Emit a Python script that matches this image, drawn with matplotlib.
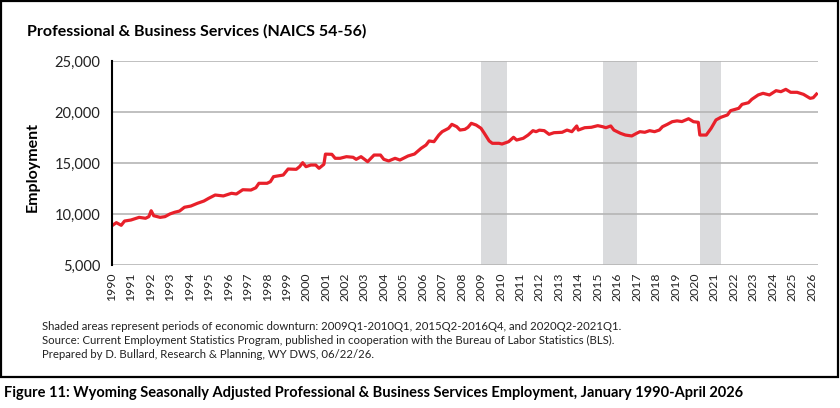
import matplotlib
matplotlib.use("Agg")
import matplotlib.pyplot as plt
from matplotlib.patches import Rectangle
from matplotlib.ticker import FuncFormatter

plt.rcParams['font.family'] = ['Lato', 'DejaVu Sans']

# decimal year (monthly) and employment
year = [
    1990.00, 1990.25, 1990.50, 1990.67, 1991.00, 1991.42, 1991.75, 1991.92,
    1992.04, 1992.17, 1992.50, 1992.75, 1993.00, 1993.25, 1993.50, 1993.75,
    1994.08, 1994.42, 1994.75, 1995.00, 1995.33, 1995.75, 1996.17, 1996.42,
    1996.75, 1997.17, 1997.42, 1997.58, 1998.00, 1998.17, 1998.33, 1998.83,
    1999.08, 1999.50, 1999.67, 1999.83, 2000.00, 2000.25, 2000.50, 2000.67,
    2000.92, 2001.00, 2001.33, 2001.50, 2001.75, 2002.08, 2002.42, 2002.58,
    2002.83, 2003.17, 2003.50, 2003.83, 2004.00, 2004.25, 2004.58, 2004.83,
    2005.25, 2005.58, 2005.92, 2006.17, 2006.33, 2006.58, 2006.83, 2007.00,
    2007.33, 2007.50, 2007.75, 2007.92, 2008.17, 2008.33, 2008.50, 2008.75,
    2009.00, 2009.17, 2009.42, 2009.58, 2009.92, 2010.08, 2010.42, 2010.67,
    2010.83, 2011.17, 2011.42, 2011.67, 2011.83, 2012.00, 2012.25, 2012.50,
    2012.75, 2013.17, 2013.42, 2013.67, 2013.92, 2014.00, 2014.33, 2014.67,
    2015.00, 2015.25, 2015.42, 2015.67, 2015.83, 2016.17, 2016.42, 2016.75,
    2017.00, 2017.17, 2017.42, 2017.67, 2017.92, 2018.17, 2018.33, 2018.58,
    2018.83, 2019.08, 2019.33, 2019.67, 2019.92, 2020.17, 2020.25, 2020.58,
    2020.83, 2021.08, 2021.33, 2021.67, 2021.83, 2022.25, 2022.42, 2022.75,
    2022.92, 2023.25, 2023.50, 2023.83, 2024.17, 2024.42, 2024.67, 2024.92,
    2025.25, 2025.58, 2025.92, 2026.08, 2026.25,
]
employment = [
    8850, 9180, 8920, 9340, 9440, 9700, 9610, 9770,
    10350, 9860, 9700, 9770, 10030, 10200, 10320, 10690,
    10810, 11080, 11300, 11570, 11890, 11800, 12060, 11990,
    12410, 12380, 12600, 13040, 13040, 13200, 13690, 13850,
    14440, 14410, 14670, 15060, 14670, 14830, 14830, 14510,
    14900, 15900, 15880, 15490, 15490, 15650, 15590, 15390,
    15650, 15160, 15810, 15810, 15390, 15230, 15490, 15320,
    15720, 15910, 16470, 16790, 17190, 17120, 17770, 18100,
    18430, 18820, 18590, 18260, 18330, 18530, 18920, 18750,
    18430, 17940, 17190, 16960, 16960, 16890, 17120, 17550,
    17280, 17450, 17770, 18200, 18100, 18250, 18200, 17840,
    18000, 18040, 18260, 18100, 18660, 18260, 18490, 18530,
    18690, 18590, 18490, 18660, 18260, 17940, 17770, 17680,
    17940, 18100, 18040, 18200, 18100, 18260, 18590, 18820,
    19080, 19160, 19090, 19370, 19080, 19020, 17770, 17770,
    18430, 19250, 19510, 19740, 20160, 20390, 20780, 20940,
    21270, 21700, 21860, 21700, 22120, 22020, 22250, 21960,
    21960, 21760, 21370, 21430, 21790,
]

# downturn periods (start, end) in decimal years
downturn_start = [2009.00, 2015.25, 2020.25]
downturn_end = [2010.33, 2017.00, 2021.33]

year_ticks = list(range(1990, 2027))

fig = plt.figure(figsize=(8.4, 4.08), dpi=100)
W, H = 840, 408

ax = fig.add_axes([111.5 / W, 1 - 265.3 / H, (817.5 - 111.5) / W, 204 / H])

for s, e in zip(downturn_start, downturn_end):
    ax.axvspan(s, e, color="#DADBDD", lw=0, zorder=0)

ax.plot(year, employment, color="#E8202A", lw=2.3, zorder=3, solid_joinstyle="round")

ax.set_xlim(1990, 2026.3)
ax.set_ylim(5000, 25000)
ax.set_yticks([5000, 10000, 15000, 20000, 25000])
ax.yaxis.set_major_formatter(FuncFormatter(lambda v, p: f"{int(v):,}"))
ax.set_xticks(year_ticks)
ax.set_xticklabels([str(y) for y in year_ticks], rotation=90, fontsize=8.8, color="#222222")
ax.tick_params(axis="y", length=0, pad=8, labelsize=10.5, labelcolor="#222222")
ax.tick_params(axis="x", length=0, pad=5.5)
ax.grid(axis="y", color="#B5B5B5", lw=1.2, zorder=1)
for side in ["top", "right", "bottom"]:
    ax.spines[side].set_visible(False)
ax.spines["left"].set_color("black")
ax.spines["left"].set_linewidth(1.5)
ax.spines["left"].set_zorder(4)

ax.set_ylabel("Employment", fontsize=11.5, fontweight="bold")
ax.yaxis.set_label_coords(-0.102, 0.482)

fig.text(27 / W, 1 - 31 / H, "Professional & Business Services (NAICS 54-56)",
         fontsize=11.5, fontweight="bold", va="center", ha="left")

notes = [
    "Shaded areas represent periods of economic downturn: 2009Q1-2010Q1, 2015Q2-2016Q4, and 2020Q2-2021Q1.",
    "Source: Current Employment Statistics Program, published in cooperation with the Bureau of Labor Statistics (BLS).",
    "Prepared by D. Bullard, Research & Planning, WY DWS, 06/22/26.",
]
for i, line in enumerate(notes):
    fig.text(42 / W, 1 - (326.5 + i * 14) / H, line, fontsize=8.2, va="center", ha="left", color="#222222")

fig.patches.append(Rectangle((1 / W, 1 - 377 / H), 837 / W, 376 / H, transform=fig.transFigure,
                             fill=False, edgecolor="black", lw=1.6))

fig.text(4 / W, 1 - 393 / H,
         "Figure 11: Wyoming Seasonally Adjusted Professional & Business Services Employment, January 1990-April 2026",
         fontsize=10.5, fontweight="bold", va="center", ha="left")

fig.savefig("out.png", dpi=100)
